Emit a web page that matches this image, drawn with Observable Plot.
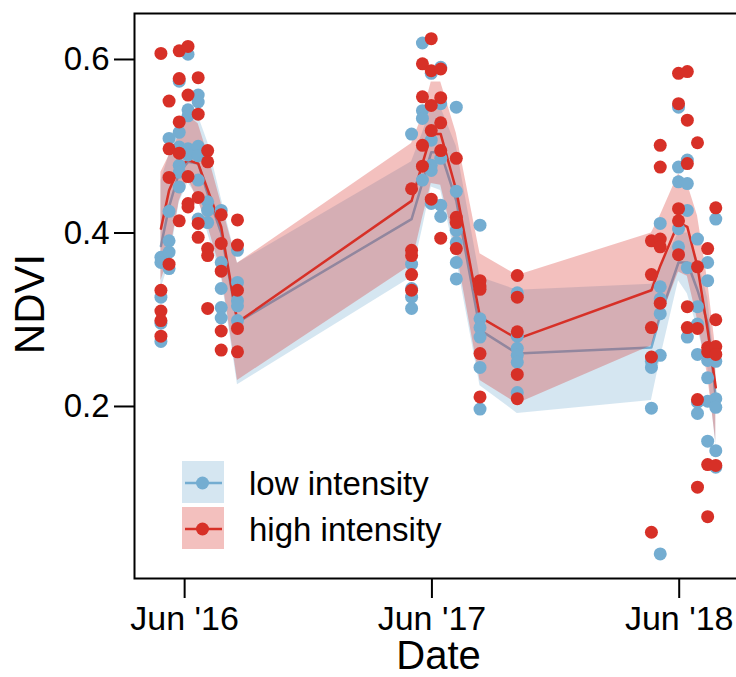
<!DOCTYPE html>
<html>
<head>
<meta charset="utf-8">
<script src="https://cdn.jsdelivr.net/npm/d3@7"></script>
<script src="https://cdn.jsdelivr.net/npm/@observablehq/plot@0.6"></script>
<style>
  html, body { margin: 0; padding: 0; background: #fff; overflow: hidden; width: 736px; height: 677px; }
  #chart { position: relative; width: 736px; height: 677px; overflow: hidden; }
  #chart svg { max-width: none !important; width: 760px; height: 677px; display: block; }
</style>
</head>
<body>
<div id="chart"></div>
<script>
// ---- data ----
const dates = ["2016-04-27","2016-05-09","2016-05-24","2016-06-06","2016-06-21","2016-07-05","2016-07-25","2016-08-18",
               "2017-05-02","2017-05-18","2017-05-31","2017-06-14","2017-07-07","2017-08-11","2017-10-05",
               "2018-04-21","2018-05-04","2018-05-31","2018-06-13","2018-06-28","2018-07-13","2018-07-25"];

const lowMean  = [0.385,0.430,0.470,0.482,0.480,0.445,0.400,0.297, 0.416,0.458,0.493,0.493,0.437,0.288,0.261, 0.268,0.305,0.366,0.366,0.334,0.296,0.210];
const lowLower = [0.335,0.365,0.435,0.458,0.440,0.400,0.350,0.225, 0.349,0.405,0.453,0.449,0.370,0.224,0.192, 0.207,0.255,0.345,0.330,0.290,0.245,0.155];
const lowUpper = [0.460,0.490,0.520,0.540,0.535,0.505,0.440,0.365, 0.482,0.515,0.545,0.545,0.500,0.349,0.334, 0.341,0.360,0.400,0.400,0.370,0.325,0.240];

const highMean  = [0.405,0.449,0.476,0.484,0.480,0.450,0.407,0.297, 0.437,0.480,0.514,0.514,0.449,0.303,0.278, 0.334,0.362,0.412,0.407,0.361,0.288,0.222];
const highLower = [0.345,0.372,0.437,0.463,0.437,0.409,0.355,0.230, 0.363,0.417,0.457,0.455,0.380,0.230,0.203, 0.270,0.300,0.355,0.350,0.300,0.235,0.160];
const highUpper = [0.470,0.489,0.513,0.535,0.526,0.491,0.434,0.365, 0.503,0.535,0.574,0.574,0.515,0.376,0.351, 0.400,0.420,0.468,0.457,0.420,0.345,0.265];

const lowPoints = [
  [0.372,0.366,0.326,0.296,0.275],
  [0.509,0.425,0.391,0.378,0.359],
  [0.575,0.516,0.499,0.478,0.470,0.453],
  [0.606,0.542,0.535,0.497,0.490],
  [0.559,0.551,0.500,0.489,0.461,0.416],
  [0.436,0.426,0.412],
  [0.426,0.366,0.336,0.314,0.302],
  [0.380,0.343,0.322,0.316,0.299],
  [0.514,0.364,0.336,0.326,0.313],
  [0.619,0.541,0.532,0.461],
  [0.584,0.507,0.478,0.472,0.434],
  [0.591,0.549,0.486,0.432,0.419],
  [0.545,0.448,0.403,0.389,0.366,0.347],
  [0.409,0.301,0.291,0.280,0.245,0.197],
  [0.331,0.281,0.267,0.259,0.251,0.216],
  [0.252,0.245,0.198],
  [0.411,0.338,0.324,0.307,0.259,0.030],
  [0.545,0.476,0.459,0.405,0.384],
  [0.484,0.457,0.426,0.360,0.280],
  [0.393,0.315,0.295,0.260,0.205,0.192],
  [0.366,0.345,0.253,0.233,0.206,0.160],
  [0.416,0.252,0.209,0.199,0.149,0.130]
];
const highPoints = [
  [0.607,0.334,0.310,0.299,0.281],
  [0.552,0.497,0.464,0.364],
  [0.610,0.578,0.528,0.492,0.414],
  [0.615,0.559,0.465,0.434,0.430],
  [0.579,0.537,0.441,0.411,0.395],
  [0.495,0.482,0.382,0.374,0.313],
  [0.421,0.388,0.356,0.287,0.265],
  [0.415,0.386,0.334,0.290,0.263],
  [0.451,0.380,0.374,0.352,0.334],
  [0.595,0.557,0.501,0.477],
  [0.624,0.587,0.547,0.518,0.439],
  [0.589,0.556,0.527,0.495,0.394],
  [0.486,0.418,0.412,0.382],
  [0.345,0.339,0.335,0.261,0.211],
  [0.351,0.326,0.286,0.237,0.209],
  [0.391,0.352,0.291,0.257,0.055],
  [0.501,0.476,0.393,0.384,0.319],
  [0.584,0.549,0.428,0.414,0.375],
  [0.586,0.530,0.480,0.315,0.291],
  [0.504,0.361,0.290,0.208,0.107],
  [0.382,0.268,0.263,0.133,0.073],
  [0.429,0.300,0.269,0.260,0.132]
];

const yTicks = [0.2, 0.4, 0.6];
const xTickDates = ["2016-06-01","2017-06-01","2018-06-01"];
const xTickLabels = ["Jun '16","Jun '17","Jun '18"];
const seriesNames = ["low intensity","high intensity"];

// ---- build tables ----
const BLUE = "#74add1", RED = "#d73027";
const summary = dates.map((d, i) => ({
  date: new Date(d),
  lowMean: lowMean[i], lowLower: lowLower[i], lowUpper: lowUpper[i],
  highMean: highMean[i], highLower: highLower[i], highUpper: highUpper[i]
}));
const lowPts = [], highPts = [];
dates.forEach((d, i) => {
  lowPoints[i].forEach(v => lowPts.push({date: new Date(d), v}));
  highPoints[i].forEach(v => highPts.push({date: new Date(d), v}));
});
const tickDates = xTickDates.map(d => new Date(d));

const FONT = "'Liberation Sans', Arial, Helvetica, sans-serif";

const chart = Plot.plot({
  width: 760,
  height: 677,
  marginLeft: 134,
  marginRight: 0,
  marginTop: 13,
  marginBottom: 99,
  x: {type: "utc", domain: [new Date("2016-03-19"), new Date("2018-09-29")]},
  y: {domain: [0.0017, 0.653]},
  style: {fontFamily: FONT, fontSize: "33px", color: "black", background: "white", overflow: "visible", maxWidth: "none"},
  marks: [
    Plot.areaY(summary, {x: "date", y1: "lowLower", y2: "lowUpper", fill: BLUE, fillOpacity: 0.3}),
    Plot.lineY(summary, {x: "date", y: "lowMean", stroke: BLUE, strokeWidth: 2.5}),
    Plot.areaY(summary, {x: "date", y1: "highLower", y2: "highUpper", fill: RED, fillOpacity: 0.3}),
    Plot.lineY(summary, {x: "date", y: "highMean", stroke: RED, strokeWidth: 2.5}),
    Plot.dot(lowPts, {x: "date", y: "v", r: 6.5, fill: BLUE}),
    Plot.dot(highPts, {x: "date", y: "v", r: 6.5, fill: RED}),
    Plot.frame({stroke: "black", strokeWidth: 2}),
    Plot.axisY({ticks: yTicks, tickSize: 20, tickPadding: 5, strokeWidth: 2, fontSize: 33,
                tickFormat: d => d.toFixed(1), label: null}),
    Plot.axisX({ticks: tickDates, tickSize: 20, tickPadding: 7, strokeWidth: 2, fontSize: 34,
                tickFormat: d => xTickLabels[tickDates.findIndex(t => +t === +d)], label: null}),
    Plot.text(["NDVI"], {text: d => d, frameAnchor: "left", rotate: -90, dx: -104, dy: 8,
                         textAnchor: "middle", lineAnchor: "middle", fontSize: 42, fill: "black"}),
    Plot.text(["Date"], {text: d => d, frameAnchor: "bottom", dx: -9, dy: 78,
                         textAnchor: "middle", lineAnchor: "middle", fontSize: 40, fill: "black"})
  ]
});
chart.style.maxWidth = "none";
chart.setAttribute("width", 760);
chart.setAttribute("height", 677);

document.getElementById("chart").appendChild(chart);

// ---- legend (inside the plot, lower left) ----
const svg = d3.select(chart);
const legend = svg.append("g").attr("font-family", FONT).attr("font-size", 33).attr("text-anchor", "start");
const legendColors = [BLUE, RED];
seriesNames.forEach((name, i) => {
  const top = 461 + i * 46;
  const g = legend.append("g");
  g.append("rect").attr("x", 182).attr("y", top).attr("width", 42).attr("height", 42)
    .attr("fill", legendColors[i]).attr("fill-opacity", 0.3);
  g.append("line").attr("x1", 185).attr("x2", 222).attr("y1", top + 22).attr("y2", top + 22)
    .attr("stroke", legendColors[i]).attr("stroke-width", 2.5);
  g.append("circle").attr("cx", 202.5).attr("cy", top + 22).attr("r", 6.5).attr("fill", legendColors[i]);
  g.append("text").attr("x", 249).attr("y", top + 34).attr("fill", "black").attr("text-anchor", "start").text(name);
});
</script>
</body>
</html>
